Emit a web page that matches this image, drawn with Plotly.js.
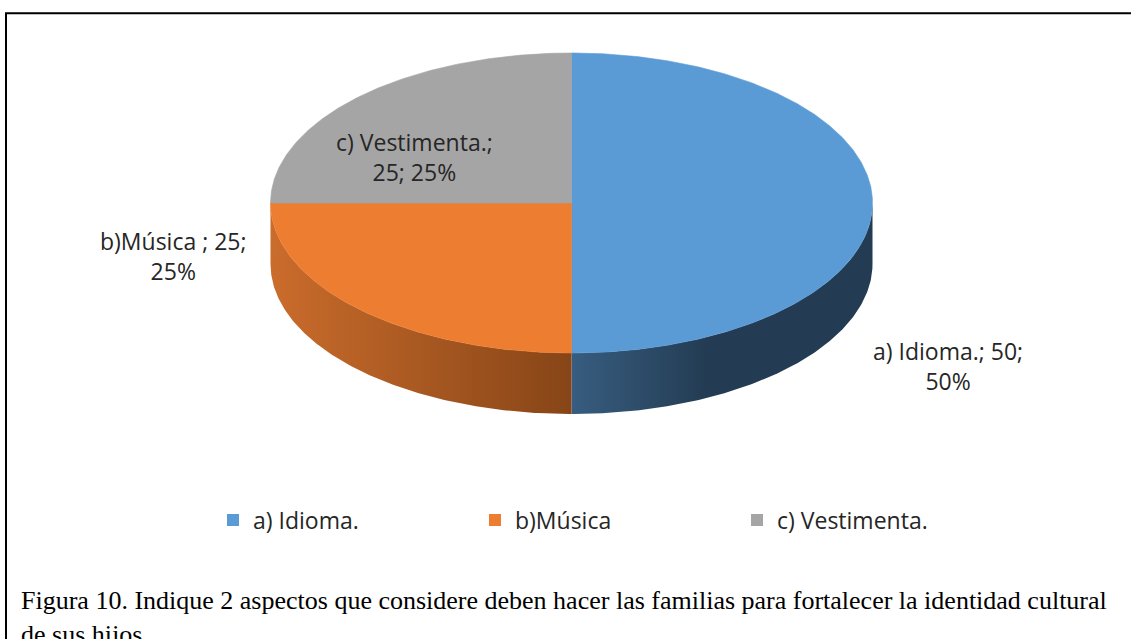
<!DOCTYPE html>
<html>
<head>
<meta charset="utf-8">
<script src="https://cdn.plot.ly/plotly-3.0.1.min.js"></script>
<style>
html, body { margin: 0; padding: 0; background: #ffffff; }
#chart { width: 1131px; height: 639px; }
</style>
</head>
<body>
<div id="chart"></div>
<script>
// ---- data ----
const categories = ["a) Idioma.", "b)Música", "c) Vestimenta."];
const labelNames = ["a) Idioma.", "b)Música ", "c) Vestimenta."];
const values = [50, 25, 25];
const topColors = ["#5B9BD5", "#ED7D31", "#A5A5A5"];
const sideColorsFrom = ["#385D80", "#CA6C2C", "#8C8C8C"];
const sideColorsTo = ["#233C53", "#874517", "#5E5E5E"];
const captionText = "Figura 10. Indique 2 aspectos que considere deben hacer las familias para fortalecer la identidad cultural<br>de sus hijos";

// ---- geometry / layout config ----
const W = 1131, H = 639;
const geo = { cx: 571.5, cy: 203, rx: 301, ry: 150, depth: 61 };
// where each data label is wrapped and placed
const labelBreakAfter = [2, 2, 1];   // break after n-th "; " separated part
const labelPos = [[948, 366], [173, 256], [414, 157]];

const total = values.reduce((a, b) => a + b, 0);
const pct = values.map(v => Math.round(v / total * 100));

function pt(phiDeg, dy) {
  const p = phiDeg * Math.PI / 180;
  return [geo.cx + geo.rx * Math.sin(p), geo.cy - geo.ry * Math.cos(p) + (dy || 0)];
}
function arc(a, b, dy) {
  const xs = [], ys = [];
  const n = Math.max(2, Math.ceil(Math.abs(b - a) * 2));
  for (let i = 0; i <= n; i++) {
    const q = pt(a + (b - a) * i / n, dy);
    xs.push(q[0]); ys.push(q[1]);
  }
  return [xs, ys];
}

// slice angles: clockwise from 12 o'clock
const starts = [], ends = [];
let acc = 0;
values.forEach(v => { starts.push(acc / total * 360); acc += v; ends.push(acc / total * 360); });

const traces = [];
// sides (front half only: 90..270 degrees)
values.forEach((v, i) => {
  const lo = Math.max(starts[i], 90), hi = Math.min(ends[i], 270);
  if (lo >= hi) return;
  const top = arc(lo, hi, 0);
  const bot = arc(hi, lo, geo.depth);
  const xs = top[0].concat(bot[0]);
  const ys = top[1].concat(bot[1]);
  xs.push(xs[0]); ys.push(ys[0]);
  const x0 = Math.min(...xs), x1 = Math.max(...xs);
  const leftToRight = i === 0;
  traces.push({
    type: "scatter", mode: "lines", x: xs, y: ys,
    fill: "toself", fillcolor: sideColorsTo[i],
    fillgradient: {
      type: "horizontal",
      colorscale: leftToRight
        ? [[0, sideColorsFrom[i]], [0.45, sideColorsTo[i]], [1, sideColorsTo[i]]]
        : [[0, sideColorsFrom[i]], [1, sideColorsTo[i]]],
      start: x0, stop: x1
    },
    line: { width: 0 }, hoverinfo: "skip", showlegend: false
  });
});
// tops
values.forEach((v, i) => {
  const a = arc(starts[i], ends[i], 0);
  const xs = [geo.cx].concat(a[0], [geo.cx]);
  const ys = [geo.cy].concat(a[1], [geo.cy]);
  traces.push({
    type: "scatter", mode: "lines", x: xs, y: ys,
    fill: "toself", fillcolor: topColors[i],
    line: { width: 0.6, color: topColors[i] }, hoverinfo: "skip", showlegend: false
  });
});
// legend entries
categories.forEach((c, i) => {
  traces.push({
    type: "scatter", mode: "markers", x: [-500], y: [-500], name: c,
    marker: { symbol: "square", size: 12, color: topColors[i] },
    hoverinfo: "skip", showlegend: true
  });
});

const labelFont = { family: "Open Sans, sans-serif", size: 23, color: "#262626" };
const annotations = values.map((v, i) => {
  const parts = [labelNames[i], String(v), pct[i] + "%"];
  const first = parts.slice(0, labelBreakAfter[i]).join("; ") + ";";
  const second = parts.slice(labelBreakAfter[i]).join("; ");
  return {
    x: labelPos[i][0], y: labelPos[i][1], xref: "x", yref: "y",
    text: first + "<br>" + second, showarrow: false,
    xanchor: "center", yanchor: "middle", align: "center", font: labelFont
  };
});
annotations.push({
  x: 19, y: 617, xref: "x", yref: "y", text: captionText, showarrow: false,
  xanchor: "left", yanchor: "middle", align: "left",
  font: { family: "Liberation Serif, Times New Roman, serif", size: 26, color: "#000000" }
});

const layout = {
  width: W, height: H,
  margin: { l: 0, r: 0, t: 0, b: 0, pad: 0 },
  paper_bgcolor: "#ffffff", plot_bgcolor: "#ffffff",
  xaxis: { range: [0, W], visible: false, fixedrange: true },
  yaxis: { range: [H, 0], visible: false, fixedrange: true },
  showlegend: true,
  legend: {
    orientation: "h", x: 213 / W, xanchor: "left", y: 1 - 520 / H, yanchor: "middle",
    font: labelFont, entrywidth: 217, bgcolor: "rgba(0,0,0,0)", traceorder: "normal"
  },
  annotations: annotations,
  shapes: [{
    type: "rect", xref: "x", yref: "y", x0: 6, y0: 13.3, x1: W + 20, y1: H + 20,
    line: { color: "#000000", width: 2 }, fillcolor: "rgba(0,0,0,0)"
  }]
};

Plotly.newPlot("chart", traces, layout, { staticPlot: true, displayModeBar: false });
</script>
</body>
</html>
